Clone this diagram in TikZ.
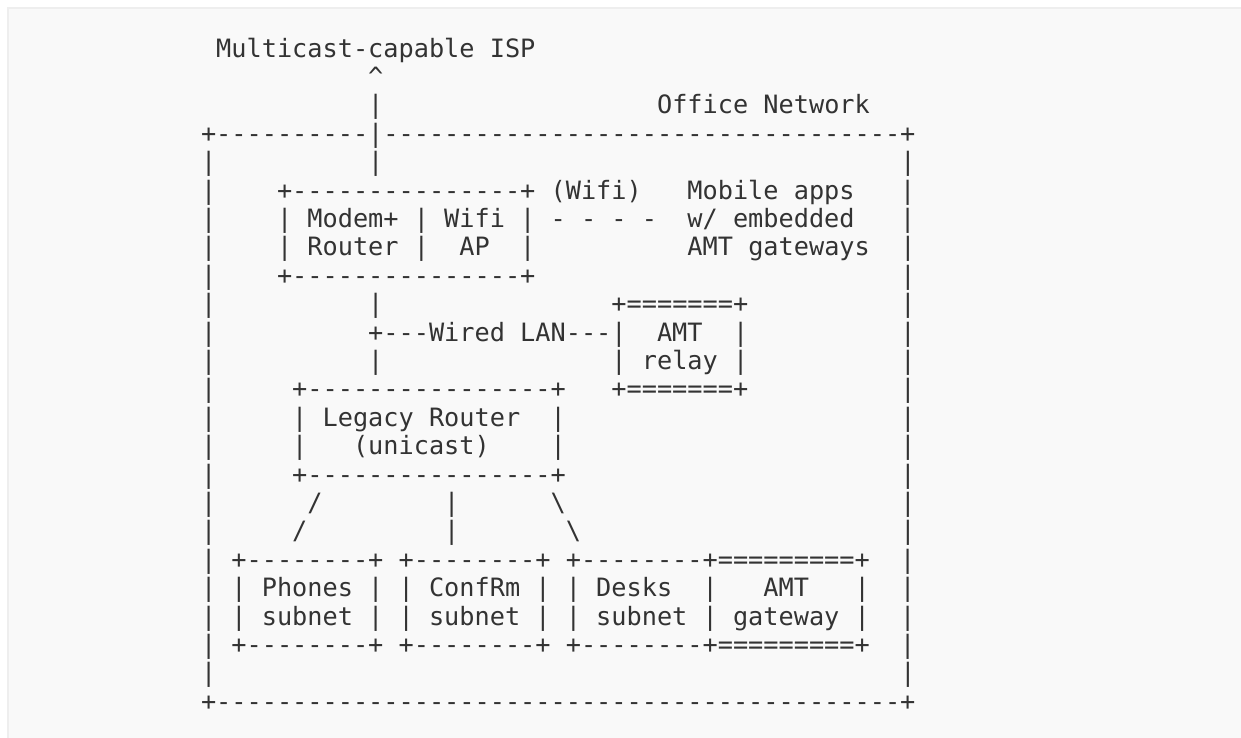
\documentclass[tikz,border=0pt]{standalone}
\usepackage{fontspec}
\newfontfamily\asciifont{DejaVu Sans Mono}
\definecolor{panelfill}{HTML}{F9F9F9}
\definecolor{panelline}{HTML}{EEEEEE}
\definecolor{inktext}{HTML}{333333}
\ExplSyntaxOn
\NewDocumentCommand\gap{m}{\prg_replicate:nn{#1}{\ }}
\ExplSyntaxOff
\tikzset{
  asciiline/.style={anchor=base west,inner sep=0pt,outer sep=0pt,text=inktext,
    font=\fontsize{25.25pt}{28pt}\asciifont},
  panel/.style={fill=panelfill,draw=panelline,line width=2pt}
}
\newcommand\lineat[3]{\node[asciiline] (#1) at (201pt,{-(57+28.4*#2)*1pt}) {#3};}
\begin{document}
\begin{tikzpicture}[x=1pt,y=1pt]
\useasboundingbox (0,-737) rectangle (1241,0);
\fill[white] (0,-737) rectangle (1241,0);
\draw[panel] (8,-745) rectangle (1250,-8);
\lineat{isp}{0}{\gap{1}Multicast-capable ISP}
\lineat{caret}{1}{\gap{11}\textasciicircum}
\lineat{office}{2}{\gap{11}|\gap{18}Office Network}
\lineat{top}{3}{+----------|----------------------------------+}
\lineat{up}{4}{|\gap{10}|\gap{34}|}
\lineat{modemtop}{5}{|\gap{4}+---------------+\gap{1}(Wifi)\gap{3}Mobile apps\gap{3}|}
\lineat{modem}{6}{|\gap{4}|\gap{1}Modem+\gap{1}|\gap{1}Wifi\gap{1}|\gap{1}- - - -\gap{2}w/ embedded\gap{3}|}
\lineat{router}{7}{|\gap{4}|\gap{1}Router\gap{1}|\gap{2}AP\gap{2}|\gap{10}AMT gateways\gap{2}|}
\lineat{modembot}{8}{|\gap{4}+---------------+\gap{24}|}
\lineat{relaytop}{9}{|\gap{10}|\gap{15}+=======+\gap{10}|}
\lineat{wired}{10}{|\gap{10}+---Wired LAN---|\gap{2}AMT\gap{2}|\gap{10}|}
\lineat{relay}{11}{|\gap{10}|\gap{15}|\gap{1}relay\gap{1}|\gap{10}|}
\lineat{legacytop}{12}{|\gap{5}+----------------+\gap{3}+=======+\gap{10}|}
\lineat{legacy}{13}{|\gap{5}|\gap{1}Legacy Router\gap{2}|\gap{22}|}
\lineat{unicast}{14}{|\gap{5}|\gap{3}(unicast)\gap{4}|\gap{22}|}
\lineat{legacybot}{15}{|\gap{5}+----------------+\gap{22}|}
\lineat{fanone}{16}{|\gap{6}/\gap{8}|\gap{6}\textbackslash\gap{22}|}
\lineat{fantwo}{17}{|\gap{5}/\gap{9}|\gap{7}\textbackslash\gap{21}|}
\lineat{subtop}{18}{|\gap{1}+--------+\gap{1}+--------+\gap{1}+--------+=========+\gap{2}|}
\lineat{subone}{19}{|\gap{1}|\gap{1}Phones\gap{1}|\gap{1}|\gap{1}ConfRm\gap{1}|\gap{1}|\gap{1}Desks\gap{2}|\gap{3}AMT\gap{3}|\gap{2}|}
\lineat{subtwo}{20}{|\gap{1}|\gap{1}subnet\gap{1}|\gap{1}|\gap{1}subnet\gap{1}|\gap{1}|\gap{1}subnet\gap{1}|\gap{1}gateway\gap{1}|\gap{2}|}
\lineat{subbot}{21}{|\gap{1}+--------+\gap{1}+--------+\gap{1}+--------+=========+\gap{2}|}
\lineat{low}{22}{|\gap{45}|}
\lineat{bottom}{23}{+---------------------------------------------+}
\end{tikzpicture}
\end{document}
